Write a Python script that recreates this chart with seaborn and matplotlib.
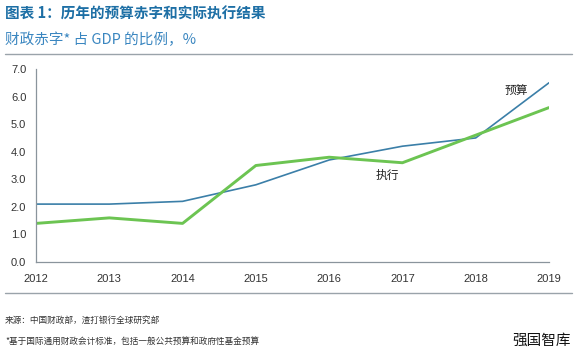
import pandas as pd
import seaborn as sns
import matplotlib.pyplot as plt

years = [2012, 2013, 2014, 2015, 2016, 2017, 2018, 2019]
budget = [2.1, 2.1, 2.2, 2.8, 3.7, 4.2, 4.5, 6.5]
actual = [1.4, 1.6, 1.4, 3.5, 3.8, 3.6, 4.6, 5.6]
yticks = [0, 1, 2, 3, 4, 5, 6, 7]

df = pd.DataFrame({"year": years * 2,
                   "value": budget + actual,
                   "series": ["预算"] * len(years) + ["执行"] * len(years)})

sns.set_style("white")
plt.rcParams['font.family'] = ['Noto Sans CJK SC', 'DejaVu Sans']

fig = plt.figure(figsize=(5.77, 3.52), dpi=100)
ax = fig.add_axes([36/577, 1-262/352, (549-36)/577, (262-69)/352])

sns.lineplot(data=df, x="year", y="value", hue="series", size="series",
             palette={"预算": "#3b7fa8", "执行": "#6cc452"},
             sizes={"预算": 1.2, "执行": 2.1}, legend=False, ax=ax)

ax.set_xlim(2012, 2019)
ax.set_ylim(0, 7)
ax.set_xticks(years)
ax.set_xticklabels([str(y) for y in years], fontsize=8, color="#333333",
                   family=['Liberation Sans', 'DejaVu Sans'])
ax.set_yticks(yticks)
ax.set_yticklabels(["%.1f" % v for v in yticks], fontsize=8, color="#333333",
                   family=['Liberation Sans', 'DejaVu Sans'])
ax.set_xlabel("")
ax.set_ylabel("")
for s in ["top", "right"]:
    ax.spines[s].set_visible(False)
for s in ["left", "bottom"]:
    ax.spines[s].set_color("#8a949c")
    ax.spines[s].set_linewidth(0.9)
ax.tick_params(axis="both", direction="out", length=3, width=0.8,
               color="#8a949c", pad=4)
ax.tick_params(axis="x", pad=6)

ax.text(2018.55, 6.1, "预算", fontsize=8.5, color="#222222", ha="center")
ax.text(2016.8, 3.0, "执行", fontsize=8.5, color="#222222", ha="center")

# title block
fig.text(5/577, 1-14/352, "图表 1：历年的预算赤字和实际执行结果", fontsize=10.5,
         fontweight="bold", color="#1d6fa5", va="center")
fig.text(5/577, 1-40/352, "财政赤字* 占 GDP 的比例，%", fontsize=10.5,
         style="italic", color="#3a86c0", va="center")
fig.add_artist(plt.Line2D([5/577, 572/577], [1-54/352, 1-54/352],
                          color="#9aa3aa", lw=1.0))
fig.add_artist(plt.Line2D([5/577, 572/577], [1-293/352, 1-293/352],
                          color="#9aa3aa", lw=1.0))

fig.text(5/577, 1-320/352, "来源：中国财政部，渣打银行全球研究部", fontsize=6.2,
         color="#333333", va="center")
fig.text(5/577, 1-341/352, "*基于国际通用财政会计标准，包括一般公共预算和政府性基金预算",
         fontsize=6.2, color="#333333", va="center")
fig.text(571/577, 1-341/352, "强国智库", fontsize=10.5, color="#111111",
         ha="right", va="center")

fig.savefig("out.png", dpi=100)
